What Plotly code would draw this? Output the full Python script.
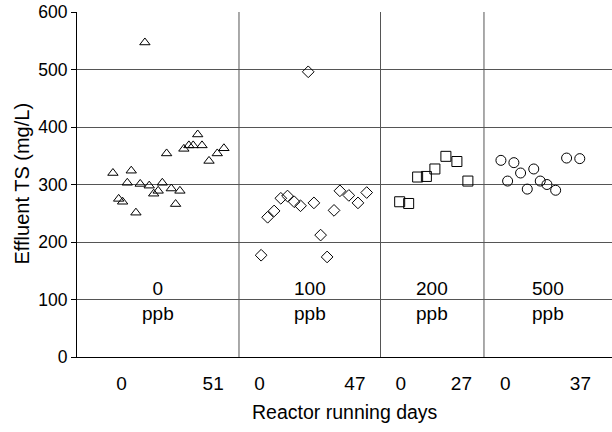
import plotly.graph_objects as go

# Effluent total solids by dose group; x = reactor running day within each group
dose_labels = ["0<br>ppb", "100<br>ppb", "200<br>ppb", "500<br>ppb"]
end_days = [51, 47, 27, 37]

days_0 = [-4.8, -1.6, 0.6, 3.2, 5.4, 8.0, 10.4, 13.0, 15.4, 17.9, 20.4, 22.7,
          25.1, 27.7, 30.1, 32.5, 34.7, 37.5, 39.9, 42.4, 44.8, 48.7, 53.3, 57.0]
ts_0 = [320, 275, 270, 303, 324, 251, 301, 547, 298, 284, 289, 303,
        354, 293, 266, 289, 362, 368, 368, 387, 368, 341, 354, 363]

days_100 = [0.8, 4.0, 7.2, 10.5, 13.8, 17.1, 20.2, 24.0, 26.8, 30.1, 33.3, 36.7,
            39.6, 44.0, 48.5, 52.8]
ts_100 = [177, 243, 254, 276, 280, 270, 263, 496, 268, 212, 174, 255,
          289, 281, 268, 286]

days_200 = [-0.5, 3.5, 7.5, 11.4, 15.2, 20.1, 25.0, 29.9]
ts_200 = [270, 267, 313, 314, 327, 349, 340, 306]

days_500 = [-2.2, 1.1, 4.2, 7.5, 10.8, 14.0, 17.2, 20.5, 24.8, 30.2, 36.7]
ts_500 = [342, 306, 338, 320, 292, 327, 306, 300, 290, 346, 345]

y_ticks = [0, 100, 200, 300, 400, 500, 600]

groups = [
    (days_0, ts_0, "triangle-up-open", 9),
    (days_100, ts_100, "diamond-open", 9),
    (days_200, ts_200, "square-open", 10),
    (days_500, ts_500, "circle-open", 10),
]

domains = [[0.0, 0.3028], [0.3028, 0.5673], [0.5673, 0.7607], [0.7607, 1.0]]
ranges = [[-24.8, 65.4], [-10.1, 59.6], [-9.05, 37.07], [-10.56, 52.6]]

FONT = "Arial, Liberation Sans, sans-serif"
GRID = "#555555"

fig = go.Figure()
for i, (xd, yd, sym, sz) in enumerate(groups):
    xa = "x" if i == 0 else f"x{i+1}"
    fig.add_trace(go.Scatter(
        x=xd, y=yd, xaxis=xa, yaxis="y", mode="markers",
        marker=dict(symbol=sym, size=sz, color="black", line=dict(width=1, color="black")),
        showlegend=False, hoverinfo="x+y",
    ))

layout = dict(
    width=612, height=432,
    margin=dict(l=77, r=0, t=12, b=75),
    paper_bgcolor="white", plot_bgcolor="white",
    font=dict(family=FONT, size=17, color="black"),
    yaxis=dict(
        range=[0, 600], tickvals=y_ticks, showgrid=True, gridcolor=GRID, gridwidth=1,
        zeroline=False, showline=True, linecolor="black", linewidth=1,
        ticks="outside", ticklen=5, tickcolor="black",
        tickfont=dict(size=17.5),
        anchor="x",
    ),
)
for i in range(4):
    key = "xaxis" if i == 0 else f"xaxis{i+1}"
    layout[key] = dict(
        domain=domains[i], range=ranges[i], tickvals=[0, end_days[i]],
        ticktext=["0", str(end_days[i])],
        showgrid=False, zeroline=False, showline=True, linecolor="black", linewidth=1,
        ticks="outside", ticklen=9, tickcolor="rgba(0,0,0,0)",
        tickfont=dict(size=19), anchor="y",
    )
fig.update_layout(**layout)

# vertical separators between dose groups
for i in range(1, 4):
    fig.add_shape(type="line", xref=f"x{i+1} domain", yref="y domain",
                  x0=0, x1=0, y0=0, y1=1, line=dict(color=GRID, width=1))

# dose group labels
for i, lab in enumerate(dose_labels):
    xr = "x domain" if i == 0 else f"x{i+1} domain"
    fig.add_annotation(text=lab, xref=xr, yref="y", x=0.5, y=97,
                       showarrow=False, font=dict(size=19), xanchor="center", yanchor="middle")

# axis titles
fig.add_annotation(text="Reactor running days", xref="paper", yref="paper",
                   x=0.5, y=-0.158, showarrow=False, font=dict(size=19.5),
                   xanchor="center", yanchor="middle")
fig.add_annotation(text="Effluent TS (mg/L)", xref="paper", yref="paper",
                   x=-0.1028, y=0.503, textangle=-90, showarrow=False, font=dict(size=20),
                   xanchor="center", yanchor="middle")

fig.write_html("out.html")
